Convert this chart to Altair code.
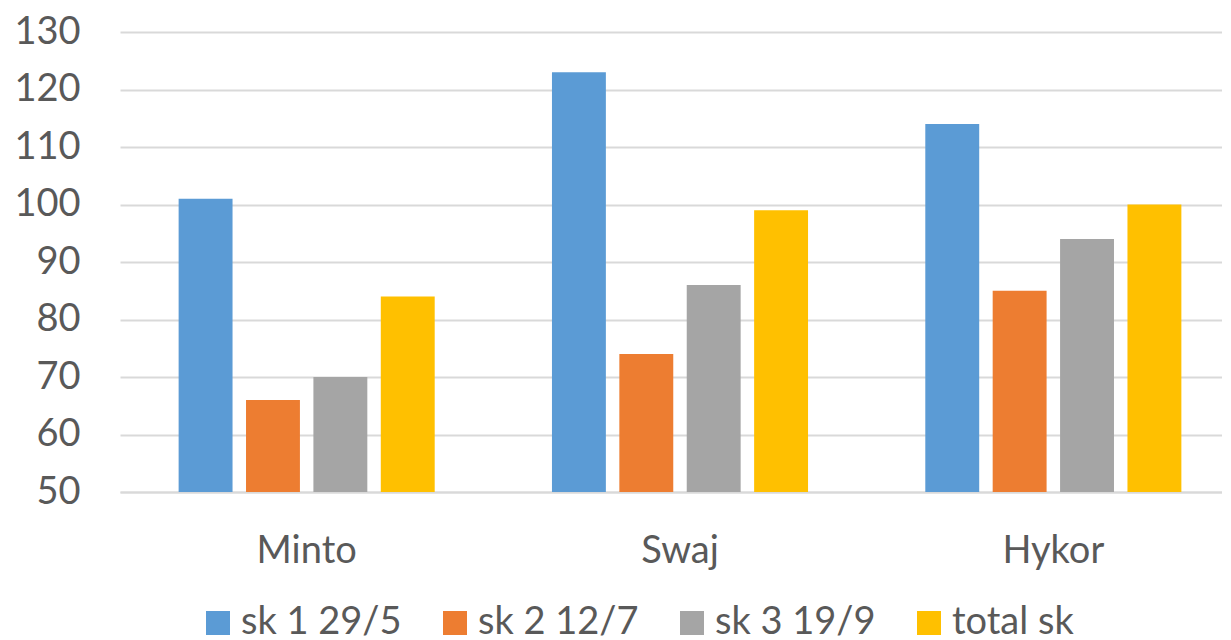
import altair as alt
import pandas as pd

categories = ["Minto", "Swaj", "Hykor"]
series = ["sk 1 29/5", "sk 2 12/7", "sk 3 19/9", "total sk"]
values = {
    "sk 1 29/5": [101, 123, 114],
    "sk 2 12/7": [66, 74, 85],
    "sk 3 19/9": [70, 86, 94],
    "total sk": [84, 99, 100],
}
colors = ["#5B9BD5", "#ED7D31", "#A5A5A5", "#FFC000"]
y_ticks = [50, 60, 70, 80, 90, 100, 110, 120, 130]

rows = []
for s in series:
    for c, v in zip(categories, values[s]):
        rows.append({"cat": c, "series": s, "value": v})
df = pd.DataFrame(rows)

FONT = "Lato"
TXT = "#595959"
GRID = "#D9D9D9"

chart = alt.Chart(df).mark_bar().encode(
    x=alt.X("cat:N", sort=categories, title=None,
            scale=alt.Scale(paddingInner=0, paddingOuter=0, range=[-2, 1118]),
            axis=alt.Axis(labelAngle=0, labelFontSize=38, labelColor=TXT, labelFont=FONT,
                          ticks=False, tickSize=0, labelPadding=70, labelBaseline="alphabetic",
                          domainColor=GRID, domainWidth=2, grid=False)),
    xOffset=alt.XOffset("series:N", sort=series,
                        scale=alt.Scale(paddingInner=0.2, paddingOuter=0.87)),
    y=alt.Y("value:Q", title=None,
            scale=alt.Scale(domain=[50, 130], zero=False, nice=False),
            axis=alt.Axis(values=y_ticks, labelFontSize=38, labelColor=TXT, labelFont=FONT,
                          ticks=False, tickSize=0, labelPadding=42, domain=False,
                          gridColor=GRID, gridWidth=2)),
    y2=alt.datum(50),
    color=alt.Color("series:N", sort=series,
                    scale=alt.Scale(domain=series, range=colors),
                    legend=alt.Legend(orient="none", legendX=77, legendY=572, direction="horizontal",
                                      title=None, symbolType="square", symbolSize=576,
                                      symbolStrokeWidth=0, labelFontSize=38, labelFont=FONT,
                                      labelColor=TXT, labelOffset=4, columnPadding=34,
                                      labelLimit=0, padding=0)),
).properties(
    width=1100, height=460,
    autosize=alt.AutoSizeParams(type="none"),
    padding={"left": 114, "top": 24, "right": 0, "bottom": 148},
    background="white",
).configure_view(stroke=None)

chart.save("out.html", embed_options={"renderer": "svg", "actions": False})
